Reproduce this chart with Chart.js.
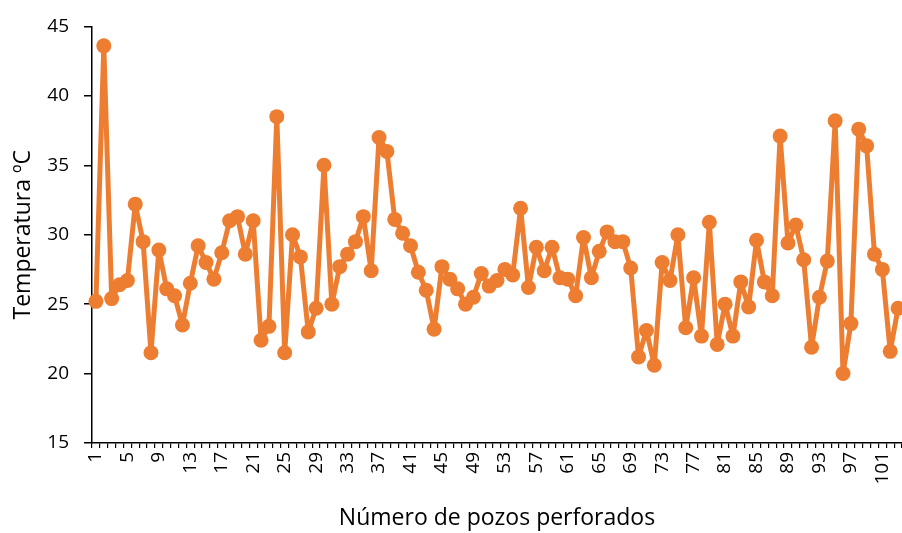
<!DOCTYPE html>
<html lang="es">
<head>
    <meta charset="UTF-8">
    <title>Temperatura por pozo</title>
    <script src="https://cdn.jsdelivr.net/npm/chart.js"></script>
    <style>
        html, body { margin: 0; padding: 0; background: #fff; }
        .wrap { width: 902px; height: 533px; }
    </style>
</head>
<body>
    <div class="wrap"><canvas id="tempChart"></canvas></div>

    <script>
        // temperatura leida por pozo (ºC)
        const temperaturas = [
            25.2, 43.6, 25.4, 26.4, 26.7, 32.2, 29.5, 21.5, 28.9, 26.1,
            25.6, 23.5, 26.5, 29.2, 28.0, 26.8, 28.7, 31.0, 31.3, 28.6,
            31.0, 22.4, 23.4, 38.5, 21.5, 30.0, 28.4, 23.0, 24.7, 35.0,
            25.0, 27.7, 28.6, 29.5, 31.3, 27.4, 37.0, 36.0, 31.1, 30.1,
            29.2, 27.3, 26.0, 23.2, 27.7, 26.8, 26.1, 25.0, 25.5, 27.2,
            26.3, 26.7, 27.5, 27.1, 31.9, 26.2, 29.1, 27.4, 29.1, 26.9,
            26.8, 25.6, 29.8, 26.9, 28.8, 30.2, 29.5, 29.5, 27.6, 21.2,
            23.1, 20.6, 28.0, 26.7, 30.0, 23.3, 26.9, 22.7, 30.9, 22.1,
            25.0, 22.7, 26.6, 24.8, 29.6, 26.6, 25.6, 37.1, 29.4, 30.7,
            28.2, 21.9, 25.5, 28.1, 38.2, 20.0, 23.6, 37.6, 36.4, 28.6,
            27.5, 21.6, 24.7
        ];
        const pozos = temperaturas.map((_, i) => String(i + 1));

        const fuente = "'Open Sans', 'Noto Sans', sans-serif";

        new Chart(document.getElementById("tempChart"), {
            type: "line",
            data: {
                labels: pozos,
                datasets: [{
                    data: temperaturas,
                    borderColor: "#ED7D31",
                    backgroundColor: "#ED7D31",
                    borderWidth: 5,
                    borderJoinStyle: "round",
                    pointRadius: 7.5,
                    pointHoverRadius: 7.5,
                    pointBorderWidth: 0,
                    tension: 0,
                    fill: false
                }]
            },
            options: {
                responsive: true,
                maintainAspectRatio: false,
                animation: false,
                layout: { autoPadding: false, padding: { top: 22, right: 0, left: 0, bottom: 0 } },
                plugins: {
                    legend: { display: false },
                    tooltip: { enabled: false }
                },
                scales: {
                    x: {
                        type: "category",
                        offset: true,
                        border: { color: "#000", width: 1.5 },
                        grid: {
                            offset: true,
                            drawOnChartArea: false,
                            drawTicks: true,
                            tickLength: 5,
                            tickColor: "#000",
                            lineWidth: 1.2
                        },
                        ticks: {
                            autoSkip: false,
                            maxRotation: 90,
                            minRotation: 90,
                            padding: 4,
                            color: "#000",
                            font: { family: fuente, size: 19 },
                            callback: function (v, i) { return i % 4 === 0 ? this.getLabelForValue(v) : ""; }
                        },
                        title: {
                            display: true,
                            text: "Número de pozos perforados",
                            color: "#000",
                            font: { family: fuente, size: 23 },
                            padding: { top: 12, bottom: 1 }
                        },
                        afterFit: s => { s.height = 90; s.paddingRight = 0; s.paddingLeft = 0; }
                    },
                    y: {
                        min: 15,
                        max: 45,
                        border: { color: "#000", width: 1.5 },
                        grid: {
                            drawOnChartArea: false,
                            drawTicks: true,
                            tickLength: 8,
                            tickColor: "#000",
                            lineWidth: 1.5
                        },
                        ticks: {
                            stepSize: 5,
                            padding: 15,
                            color: "#000",
                            font: { family: fuente, size: 19 }
                        },
                        title: {
                            display: true,
                            text: "Temperatura ºC",
                            color: "#000",
                            font: { family: fuente, size: 23 },
                            padding: { top: 10, bottom: 6 }
                        },
                        afterFit: s => { s.width = 92; }
                    }
                }
            }
        });
    </script>
</body>
</html>
